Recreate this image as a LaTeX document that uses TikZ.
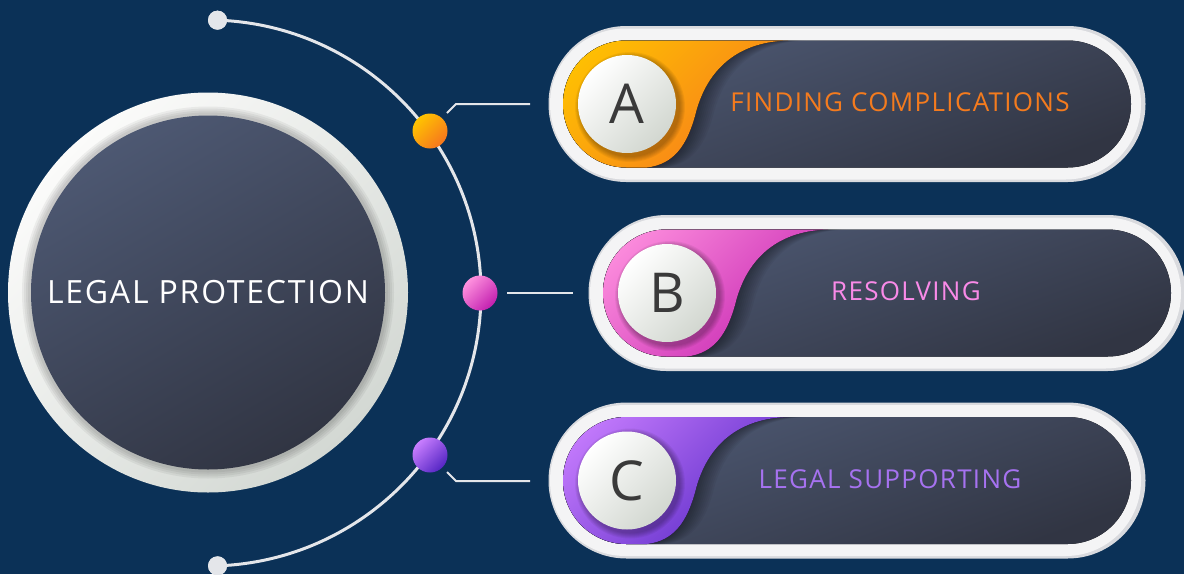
\documentclass[tikz,border=0pt]{standalone}
\usepackage{fontspec}
\setmainfont{Open Sans}
\newfontfamily\titlefont[LetterSpace=5.5]{Open Sans}
\newfontfamily\itemfont[LetterSpace=5]{Open Sans}
\usetikzlibrary{calc}
\definecolor{bg}{HTML}{0B3157}
\definecolor{ringA}{HTML}{FBFBFA}
\definecolor{ringB}{HTML}{D3D8D3}
\definecolor{diskA}{HTML}{4D5872}
\definecolor{diskB}{HTML}{313543}
\definecolor{lineC}{HTML}{E4E6EA}
\definecolor{orA}{HTML}{FFC400}
\definecolor{orB}{HTML}{F6761E}
\definecolor{pkA}{HTML}{FF92DF}
\definecolor{pkB}{HTML}{C21FAE}
\definecolor{puA}{HTML}{C97EFF}
\definecolor{puB}{HTML}{5526C4}
\definecolor{orT}{HTML}{F47B1E}
\definecolor{pkT}{HTML}{F98AE8}
\definecolor{puT}{HTML}{A672F0}
\definecolor{letterc}{HTML}{3A3A3A}
\definecolor{rimC}{HTML}{D9DADE}
\definecolor{faceC}{HTML}{F4F4F5}
\definecolor{btnB}{HTML}{D2D7D0}
\tikzset{
  connector/.style={draw=lineC, line width=2pt},
  arcline/.style={draw=lineC, line width=3pt},
  enddot/.style={circle, fill=lineC, minimum size=19pt, inner sep=0pt},
  bigdot/.style={circle, minimum size=35pt, inner sep=0pt, top color=#1A, bottom color=#1B, shading angle=45},
  tailshape/.style={insert path={({\pL+225},{\pY-63.5}) -- ({\pL+225},{\pY-90}) -- ({\pL-20},{\pY-90}) -- ({\pL-20},{\pY+90}) -- ({\pL+84},{\pY+90}) -- ({\pL+84},{\pY+63.5}) .. controls ({\pL+112},{\pY+60}) and ({\pL+124},{\pY+40}) .. ({\pL+132},{\pY+12}) .. controls ({\pL+142},{\pY-30}) and ({\pL+170},{\pY-62}) .. ({\pL+225},{\pY-63.5}) -- cycle}},
  btn/.style={circle, minimum size=98pt, inner sep=0pt, top color=white, bottom color=btnB, shading angle=45, text=letterc, font=\fontsize{55}{60}\selectfont},
  itemlabel/.style={font=\itemfont\fontsize{26}{30}\selectfont, inner sep=0pt}
}
% #1 left, #2 right, #3 center y, #4 colour A, #5 colour B, #6 letter, #7 text, #8 text colour, #9 text x
\newcommand{\infopill}[9]{%
  \pgfmathsetmacro\pL{#1}\pgfmathsetmacro\pR{#2}\pgfmathsetmacro\pY{#3}%
  \fill[rimC, rounded corners=77.9pt] ({\pL-14.5},{\pY-78}) rectangle ({\pR+14.5},{\pY+78});
  \fill[faceC, rounded corners=75.4pt] ({\pL-13},{\pY-75.5}) rectangle ({\pR+10},{\pY+75.5});
  \fill[top color=diskA, bottom color=diskB, shading angle=20, rounded corners=63.4pt] ({\pL},{\pY-63.5}) rectangle ({\pR},{\pY+63.5});
  \coordinate (pill#6) at ({\pL},{\pY});
  \begin{scope}
    \clip[rounded corners=63.4pt] ({\pL},{\pY-63.5}) rectangle ({\pR},{\pY+63.5});
    \foreach \s in {2,4,...,18} {\fill[black, opacity=0.045, xshift=\s pt, tailshape];}
    \fill[top color=#4, bottom color=#5, shading angle=45, tailshape];
    \foreach \k in {1,...,6} {\fill[black, opacity=0.05] ({\pL+67},{\pY+3}) circle[radius=49pt+\k pt];}
  \end{scope}
  \node[btn] (circ#6) at ({\pL+64},{\pY}) {#6};
  \node[itemlabel, text=#8] (lbl#6) at (#9,{\pY-1.5}) {#7};
}
\begin{document}
\begin{tikzpicture}[x=1pt,y=-1pt]
\path[use as bounding box, fill=bg] (0,0) rectangle (1184,574);
% central circle
\node[circle, minimum size=400pt, inner sep=0pt, top color=ringA, bottom color=ringB, shading angle=45] (ring) at (208,292.5) {};
\foreach \w in {16,12,8,4} {\draw[black, opacity=0.05, line width=\w pt] (208,292.5) circle[radius=178pt];}
\node[circle, minimum size=354pt, inner sep=0pt, top color=diskA, bottom color=diskB, shading angle=30, text=white, font=\titlefont\fontsize{32}{36}\selectfont] (core) at (208,292.5) {LEGAL PROTECTION};
% arc
\coordinate (arcc) at (208,293);
\node[enddot] (topend) at ($(arcc)+(-88:273)$) {};
\node[enddot] (botend) at ($(arcc)+(88:273)$) {};
\draw[arcline] (topend.center) arc[start angle=-88, end angle=88, radius=273];
\node[enddot] at (topend) {};
\node[enddot] at (botend) {};
% dots
\node[bigdot=or] (dotA) at (430,131) {};
\node[bigdot=pk] (dotB) at (480,293) {};
\node[bigdot=pu] (dotC) at (430,455) {};
% pills
\infopill{563}{1131}{104}{orA}{orB}{A}{FINDING COMPLICATIONS}{orT}{900}
\infopill{603}{1171}{293}{pkA}{pkB}{B}{RESOLVING}{pkT}{906}
\infopill{563}{1131}{480.5}{puA}{puB}{C}{LEGAL SUPPORTING}{puT}{890}
% connectors
\coordinate (a1) at (447,113);
\coordinate (a2) at (456,104);
\coordinate (a3) at (530,104);
\draw[connector] (a1) -- (a2) -- (a3);
\coordinate (b1) at (507,293);
\coordinate (b2) at (573,293);
\draw[connector] (b1) -- (b2);
\coordinate (c1) at (447,472);
\coordinate (c2) at (456,481);
\coordinate (c3) at (530,481);
\draw[connector] (c1) -- (c2) -- (c3);
\end{tikzpicture}
\end{document}
